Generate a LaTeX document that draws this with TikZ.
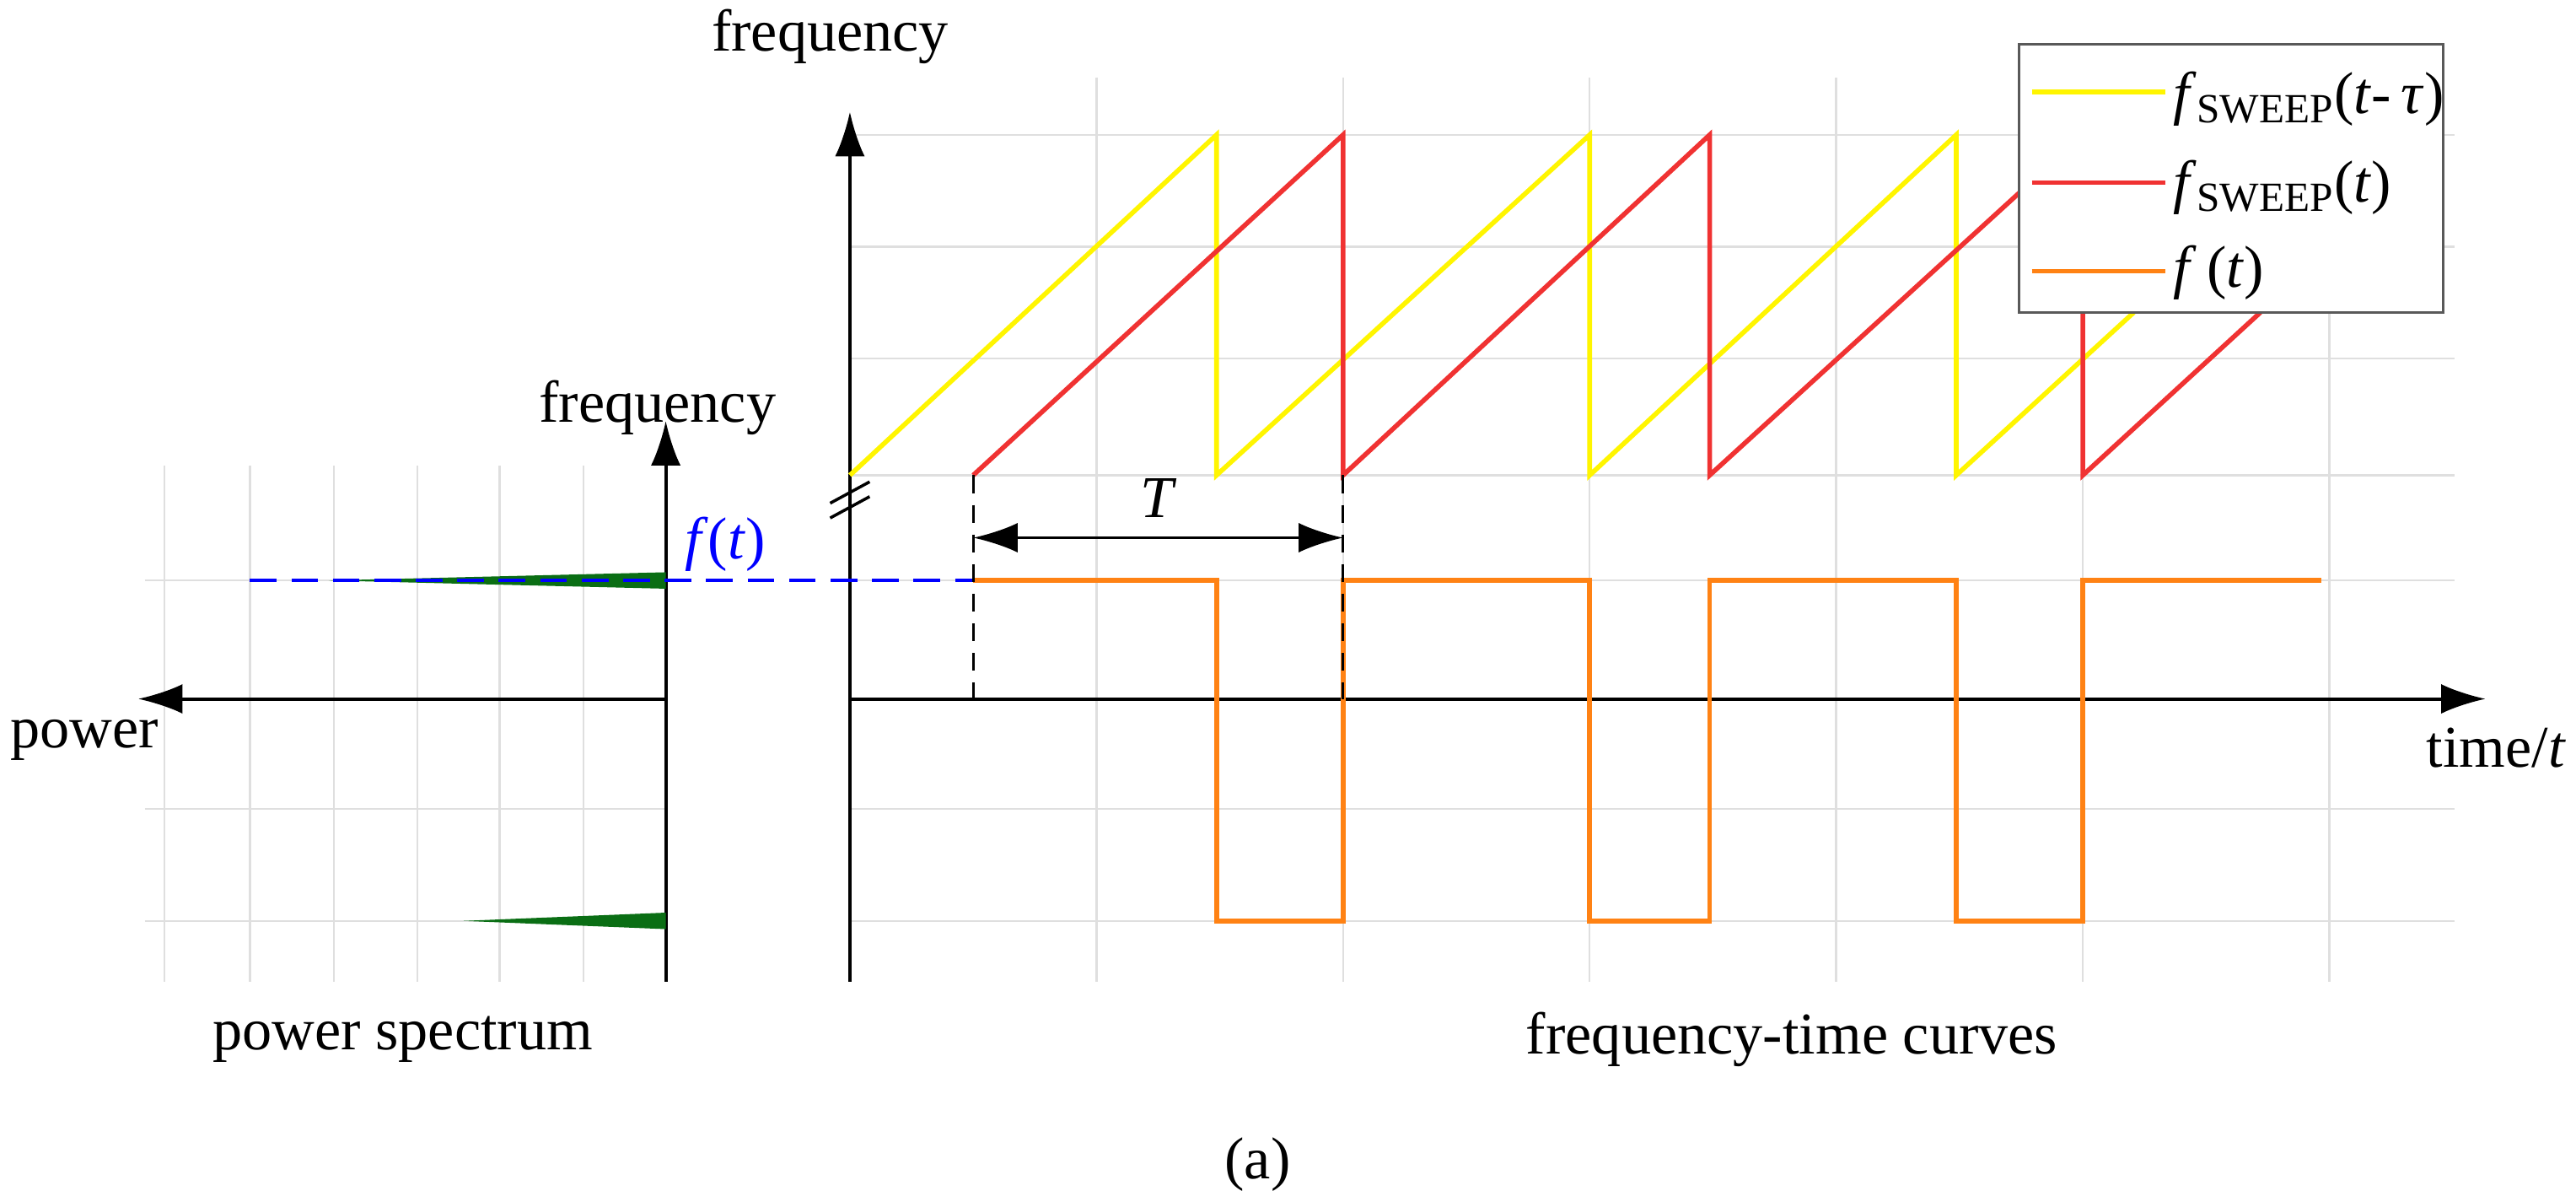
\documentclass[tikz,border=0pt]{standalone}
\usepackage{fontspec}
\setmainfont{Liberation Serif}
\usetikzlibrary{arrows.meta}
\definecolor{sweepY}{RGB}{255,245,0}
\definecolor{sweepR}{RGB}{240,50,50}
\definecolor{ftOr}{RGB}{255,130,20}
\definecolor{specG}{RGB}{10,110,20}
\newcommand{\vi}[1]{\textit{#1}}
\tikzset{
  grid line/.style={gray!25,line width=0.7pt},
  axis/.style={line width=1.1pt,-{Latex[length=15pt,width=10pt]}},
  curve/.style={line width=1.6pt,line join=miter},
  lbl/.style={font=\fontsize{20}{24}\selectfont,inner sep=1pt},
  dim/.style={line width=0.8pt,dash pattern=on 6pt off 4pt}
}
\begin{document}
\begin{tikzpicture}[x=0.0195cm,y=-0.0195cm]
\useasboundingbox (0,0) rectangle (1567,724);
% grid
\foreach \gy in {82,150,218,289,353,425,492,560}
  \draw[grid line] (517,\gy) -- (1493,\gy);
\foreach \gx in {667,817,967,1117,1267,1417}
  \draw[grid line] (\gx,47) -- (\gx,597);
\foreach \gy in {353,425,492,560}
  \draw[grid line] (88,\gy) -- (405,\gy);
\foreach \gx in {100,152,203,254,304,355}
  \draw[grid line] (\gx,283) -- (\gx,597);
% axes
\coordinate (fo) at (517,597); \coordinate (ftop) at (517,68);
\coordinate (to) at (517,425); \coordinate (tend) at (1512,425);
\coordinate (po) at (405,597); \coordinate (ptop) at (405,256);
\coordinate (pw) at (405,425); \coordinate (pend) at (84,425);
\draw[axis] (fo) -- (ftop);
\draw[axis] (to) -- (tend);
\draw[axis] (po) -- (ptop);
\draw[axis] (pw) -- (pend);
% axis break
\draw[line width=1pt] (505,306) -- (529,293) (505,315) -- (529,302);
% spectrum
\fill[specG] (405,348) -- (405,358) -- (200,353) -- cycle;
\fill[specG] (405,555) -- (405,565) -- (282,560) -- cycle;
\coordinate (bl) at (152,353); \coordinate (br) at (592,353);
\draw[blue,line width=1pt,dash pattern=on 9pt off 5pt] (bl) -- (br);
% sweeps
\draw[curve,sweepY] (517,289) -- (740,82) -- (740,289) -- (967,82) -- (967,289)
  -- (1190,82) -- (1190,289) -- (1298,190);
\draw[curve,sweepR] (592,289) -- (817,82) -- (817,289) -- (1040,82) -- (1040,289)
  -- (1267,82) -- (1267,289) -- (1375,190);
\draw[curve,ftOr] (592,353) -- (740,353) -- (740,560) -- (817,560) -- (817,353)
  -- (967,353) -- (967,560) -- (1040,560) -- (1040,353) -- (1190,353)
  -- (1190,560) -- (1267,560) -- (1267,353) -- (1412,353);
% period
\coordinate (d1t) at (592,289); \coordinate (d1b) at (592,425);
\coordinate (d2t) at (817,289); \coordinate (d2b) at (817,425);
\draw[dim] (d1t) -- (d1b);
\draw[dim] (d2t) -- (d2b);
\draw[line width=1pt,{Latex[length=15pt,width=10pt]}-{Latex[length=15pt,width=10pt]}] (592,327) -- (817,327);
\node[lbl] (tT) at (705,303) {\vi{T}};
% legend
\draw[fill=white,draw=gray!70!black,line width=0.8pt] (1228,27) rectangle (1486,190);
\draw[curve,sweepY] (1236,56) -- (1317,56);
\draw[curve,sweepR] (1236,111) -- (1317,111);
\draw[curve,ftOr] (1236,165) -- (1317,165);
\node[lbl,anchor=west] (lgY) at (1320,60) {\vi{f}\textsubscript{SWEEP}(\vi{t}-\,\vi{τ})};
\node[lbl,anchor=west] (lgR) at (1320,114) {\vi{f}\textsubscript{SWEEP}(\vi{t})};
\node[lbl,anchor=west] (lgO) at (1320,166) {\vi{f}\,(\vi{t})};
% labels
\node[lbl] (fqR) at (505,22) {frequency};
\node[lbl] (fqL) at (400,248) {frequency};
\node[lbl,blue] (ftl) at (441,331) {\vi{f}(\vi{t})};
\node[lbl,anchor=west] (pwr) at (4,450) {power};
\node[lbl,anchor=east] (tim) at (1563,455) {time/\vi{t}};
\node[lbl] (ps) at (245,632) {power spectrum};
\node[lbl] (ftc) at (1090,632) {frequency-time curves};
\node[lbl] (cap) at (765,708) {(a)};
\end{tikzpicture}
\end{document}
